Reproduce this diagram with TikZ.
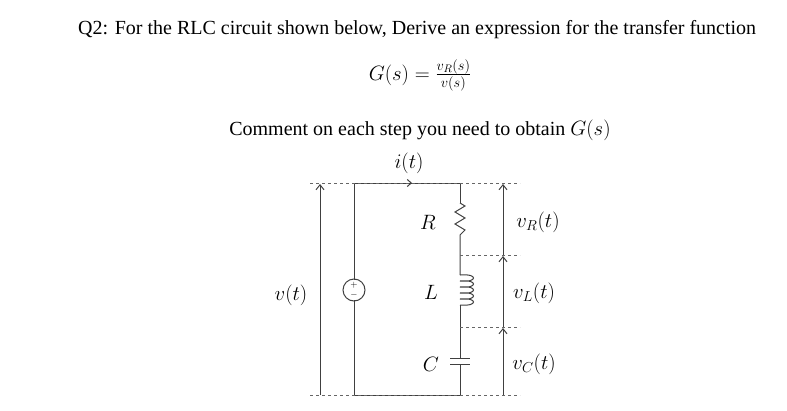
\documentclass[tikz,border=0pt]{standalone}
\usepackage{fontspec}
\setmainfont{Liberation Serif}
\usepackage{amsmath}
\usetikzlibrary{arrows.meta}
\tikzset{wire/.style={line width=1pt, color=black!75},
	guide/.style={dashed, color=black!60, line width=0.7pt},
	varrow/.style={wire, -{Straight Barb[length=5pt,width=8pt]}},
	lbl/.style={inner sep=0pt, font=\fontsize{22}{24}\selectfont}}
\begin{document}
\begin{tikzpicture}[x=1pt, y=-1pt]
	\useasboundingbox (0,0) rectangle (787,410);
	% text
	\node [lbl, anchor=west] (title) at (78, 30) {\fontsize{20}{22}\selectfont Q2: For the RLC circuit shown below, Derive an expression for the transfer function};
	\node [lbl] (gs) at (420, 75) {$G(s)=\frac{v_R(s)}{v(s)}$};
	\node [lbl] (comment) at (420, 130) {\fontsize{20}{22}\selectfont Comment on each step you need to obtain $G(s)$};
	\node [lbl] (it) at (409, 163) {$i(t)$};
	\node [lbl] (vt) at (291, 295) {$v(t)$};
	\node [lbl] (R) at (428, 222) {$R$};
	\node [lbl] (L) at (431, 292) {$L$};
	\node [lbl] (C) at (431, 364) {$C$};
	\node [lbl] (vR) at (538, 222) {$v_R(t)$};
	\node [lbl] (vL) at (534, 293) {$v_L(t)$};
	\node [lbl] (vC) at (534, 364) {$v_C(t)$};
	% corners
	\coordinate (tl) at (354, 183);
	\coordinate (tr) at (460, 183);
	\coordinate (bl) at (354, 395);
	\coordinate (br) at (460, 395);
	\coordinate (m1) at (460, 255);
	\coordinate (m2) at (460, 327);
	% wires
	\draw [wire] (bl) -- (354, 300) (354, 280) -- (tl) -- (tr) -- (460, 203);
	\draw [wire] (460, 203) -- (465, 206) -- (455, 212) -- (465, 218) -- (455, 224) -- (465, 230) -- (460, 235) -- (460, 275);
	\draw [wire] (460, 275) \foreach \k in {0,...,4} { .. controls ++(18,-2) and ++(18,2) .. ++(0,6) } -- (460, 305);
	\draw [wire] (460, 305) -- (460, 358) (450, 358) -- (470, 358) (450, 364) -- (470, 364) (460, 364) -- (br) -- (bl);
	\draw [wire, -{Straight Barb[length=4pt,width=7pt]}] (tl) -- (412, 183);
	% source
	\node [wire, draw, circle, minimum size=22pt, inner sep=0pt] (src) at (354, 290) {};
	\node [inner sep=0pt, font=\small] (plus) at (354, 285) {$+$};
	\node [inner sep=0pt, font=\small] (minus) at (354, 295) {$-$};
	% guides
	\draw [guide] (310, 183) -- (520, 183);
	\draw [guide] (310, 395) -- (520, 395);
	\draw [guide] (m1) -- (520, 255);
	\draw [guide] (m2) -- (520, 327);
	% voltage arrows
	\draw [varrow] (320, 395) -- (320, 184);
	\draw [varrow] (503, 255) -- (503, 184);
	\draw [varrow] (503, 327) -- (503, 256);
	\draw [varrow] (503, 395) -- (503, 328);
\end{tikzpicture}
\end{document}
